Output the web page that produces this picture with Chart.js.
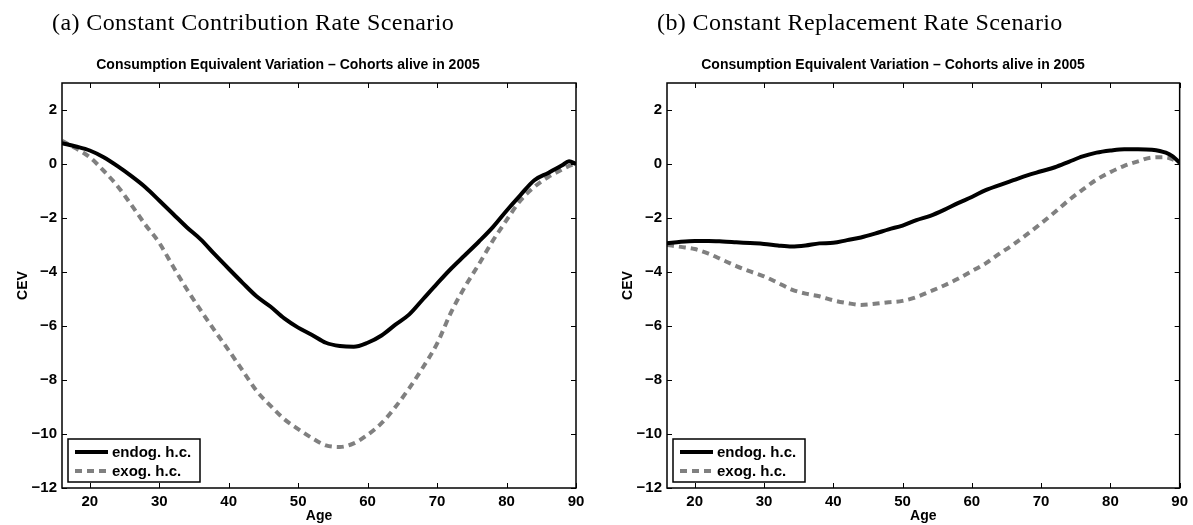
<!DOCTYPE html>
<html>
<head>
<meta charset="utf-8">
<script src="https://cdn.jsdelivr.net/npm/chart.js@4.4.0/dist/chart.umd.min.js"></script>
<style>
  body { margin: 0; background: #fff; width: 1193px; height: 525px; overflow: hidden; position: relative; }
  .panel { position: absolute; top: 0; height: 525px; }
  .caption { position: absolute; top: 9px; left: 52px; font-family: "Liberation Serif", serif; font-size: 24px; letter-spacing: 0.4px; line-height: 26px; color: #000; white-space: nowrap; }
</style>
</head>
<body>
<div class="panel" style="left:0;width:596px"><div class="caption">(a) Constant Contribution Rate Scenario</div><canvas id="chartA" width="596" height="525"></canvas></div>
<div class="panel" style="left:605px;width:588px"><div class="caption">(b) Constant Replacement Rate Scenario</div><canvas id="chartB" width="588" height="525"></canvas></div>
<script>
// ages of the cohorts alive in 2005
var ages = [16,18,20,22,24,26,28,30,32,34,36,38,40,42,44,46,48,50,52,54,56,58,60,62,64,66,68,70,72,74,76,78,80,82,84,86,88,89,90];

// (a) constant contribution rate
var ccEndog = [0.77,0.65,0.50,0.25,-0.08,-0.45,-0.86,-1.35,-1.85,-2.35,-2.80,-3.35,-3.88,-4.40,-4.90,-5.28,-5.72,-6.06,-6.33,-6.62,-6.74,-6.77,-6.62,-6.35,-5.95,-5.57,-5.00,-4.43,-3.88,-3.38,-2.88,-2.35,-1.73,-1.15,-0.60,-0.33,-0.05,0.10,0.00];
var ccExog = [0.86,0.58,0.25,-0.25,-0.82,-1.52,-2.25,-2.92,-3.80,-4.65,-5.43,-6.18,-6.90,-7.65,-8.40,-8.95,-9.45,-9.82,-10.15,-10.42,-10.48,-10.35,-10.03,-9.60,-9.00,-8.30,-7.52,-6.65,-5.50,-4.55,-3.72,-2.85,-2.08,-1.35,-0.85,-0.48,-0.20,-0.07,0.03];

// (b) constant replacement rate
var rrEndog = [-2.94,-2.88,-2.85,-2.85,-2.87,-2.90,-2.93,-2.96,-3.02,-3.06,-3.02,-2.94,-2.92,-2.82,-2.72,-2.58,-2.42,-2.28,-2.08,-1.92,-1.70,-1.45,-1.22,-0.97,-0.78,-0.60,-0.42,-0.27,-0.12,0.08,0.28,0.42,0.50,0.55,0.55,0.53,0.42,0.28,0.05];
var rrExog = [-3.00,-3.07,-3.15,-3.32,-3.55,-3.78,-3.98,-4.16,-4.40,-4.65,-4.80,-4.90,-5.05,-5.15,-5.22,-5.18,-5.12,-5.07,-4.93,-4.72,-4.50,-4.25,-3.97,-3.68,-3.32,-2.98,-2.60,-2.20,-1.78,-1.34,-0.95,-0.58,-0.30,-0.07,0.10,0.24,0.25,0.17,0.04];

var seriesNames = ["endog. h.c.", "exog. h.c."];
var chartTitle = "Consumption Equivalent Variation \u2013 Cohorts alive in 2005";

var FONT = "'Liberation Sans', Arial, sans-serif";

function pts(vals) {
  return vals.map(function (v, i) { return { x: ages[i], y: v }; });
}

// MATLAB style box with inward ticks on all four sides
var boxPlugin = {
  id: 'box',
  afterDraw: function (chart) {
    var ctx = chart.ctx, a = chart.chartArea;
    var xs = chart.scales.x, ys = chart.scales.y;
    ctx.save();
    ctx.strokeStyle = '#000';
    ctx.lineWidth = 1;
    xs.ticks.forEach(function (t) {
      var px = Math.round(xs.getPixelForValue(t.value)) + 0.5;
      ctx.beginPath();
      ctx.moveTo(px, a.bottom); ctx.lineTo(px, a.bottom - 5);
      ctx.moveTo(px, a.top); ctx.lineTo(px, a.top + 5);
      ctx.stroke();
    });
    ys.ticks.forEach(function (t) {
      var py = Math.round(ys.getPixelForValue(t.value)) + 0.5;
      ctx.beginPath();
      ctx.moveTo(a.left, py); ctx.lineTo(a.left + 5, py);
      ctx.moveTo(a.right, py); ctx.lineTo(a.right - 5, py);
      ctx.stroke();
    });
    ctx.lineWidth = 1.5;
    ctx.strokeRect(a.left, a.top, a.right - a.left, a.bottom - a.top);

    // legend, lower left corner
    var bx = a.left + 6, by = a.bottom - 49;
    ctx.fillStyle = '#fff';
    ctx.fillRect(bx, by, 132, 43);
    ctx.lineWidth = 1.5;
    ctx.strokeStyle = '#000';
    ctx.strokeRect(bx, by, 132, 43);
    ctx.font = 'bold 15px ' + FONT;
    ctx.textBaseline = 'middle';
    chart.data.datasets.forEach(function (ds, i) {
      var ry = by + 13 + i * 19;
      ctx.beginPath();
      ctx.strokeStyle = ds.borderColor;
      ctx.lineWidth = ds.borderWidth;
      ctx.setLineDash(ds.borderDash || []);
      ctx.moveTo(bx + 7, ry); ctx.lineTo(bx + 40, ry);
      ctx.stroke();
      ctx.setLineDash([]);
      ctx.fillStyle = '#000';
      ctx.fillText(ds.label, bx + 44, ry + 1);
    });
    ctx.restore();
  }
};

function makeChart(id, endog, exog, rightPad) {
  return new Chart(document.getElementById(id), {
    type: 'line',
    data: {
      datasets: [{
        label: seriesNames[0],
        data: pts(endog),
        borderColor: '#000',
        borderWidth: 4,
        pointRadius: 0,
        tension: 0.4,
        cubicInterpolationMode: 'monotone'
      }, {
        label: seriesNames[1],
        data: pts(exog),
        borderColor: '#808080',
        borderWidth: 4,
        borderDash: [7, 5],
        pointRadius: 0,
        tension: 0.4,
        cubicInterpolationMode: 'monotone'
      }]
    },
    options: {
      responsive: false,
      animation: false,
      layout: { padding: { left: 0, right: rightPad, top: 0, bottom: 0 } },
      plugins: {
        legend: { display: false },
        tooltip: { enabled: false },
        title: {
          display: true,
          text: chartTitle,
          color: '#000',
          font: { family: FONT, size: 14, weight: 'bold', lineHeight: 1.2 },
          padding: { top: 57, bottom: 9.2 }
        }
      },
      scales: {
        x: {
          type: 'linear',
          min: 16, max: 90,
          afterFit: function (s) { s.height = 37; },
          grid: { display: false, drawTicks: false },
          border: { display: false },
          ticks: {
            stepSize: 10, includeBounds: false, padding: 5,
            color: '#000', font: { family: FONT, size: 15, weight: 'bold' },
            maxRotation: 0
          },
          title: {
            display: true, text: 'Age', color: '#000',
            font: { family: FONT, size: 14, weight: 'bold', lineHeight: 1.2 },
            padding: { top: 0, bottom: 0 }
          }
        },
        y: {
          min: -12, max: 3,
          afterFit: function (s) { s.width = 62; },
          grid: { display: false, drawTicks: false },
          border: { display: false },
          ticks: {
            stepSize: 2, includeBounds: false, padding: 5,
            color: '#000', font: { family: FONT, size: 15, weight: 'bold' },
            callback: function (v) { return String(v).replace('-', '\u2212'); }
          },
          title: {
            display: true, text: 'CEV', color: '#000',
            font: { family: FONT, size: 14, weight: 'bold', lineHeight: 1.2 },
            padding: { top: 15, bottom: 0 }
          }
        }
      }
    },
    plugins: [boxPlugin]
  });
}

makeChart('chartA', ccEndog, ccExog, 20);
makeChart('chartB', rrEndog, rrExog, 12);
</script>
</body>
</html>
